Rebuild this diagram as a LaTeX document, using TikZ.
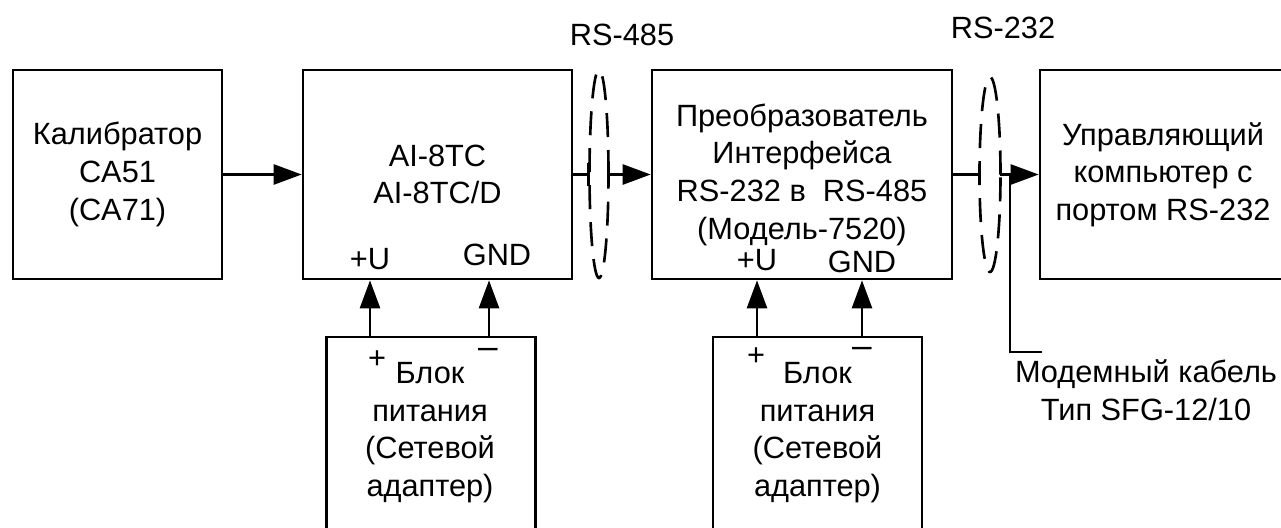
\documentclass[tikz,border=0pt]{standalone}
\usepackage{fontspec}
\setmainfont{Liberation Sans}
\usetikzlibrary{arrows.meta,positioning,calc,shapes.geometric}
\newcommand{\fs}{\fontsize{17.5}{21.4}\selectfont}
\tikzset{
  >={Triangle[length=5.6mm,width=4mm]},
  box/.style   ={draw,line width=1.5pt,minimum height=41.8mm,
                 align=center,font=\fs,inner sep=0pt},
  psu/.style   ={draw,line width=1.5pt,minimum width=41.8mm,
                 minimum height=44.6mm},
  txt/.style   ={font=\fs,align=center,inner sep=0pt},
  pin/.style   ={font=\fs,inner sep=0pt},
  sign/.style  ={font=\fontsize{20}{24}\selectfont,inner sep=0pt},
  lbl/.style   ={font=\fs,inner sep=0pt},
  wire/.style  ={line width=1.5pt},
  flow/.style  ={->,line width=1.5pt},
  cable/.style ={draw,ellipse,inner sep=0pt,line width=1.5pt,
                 dash pattern=on 4.8mm off 2.6mm},
}

\begin{document}
\begin{tikzpicture}[x=1cm,y=1cm]
\useasboundingbox (0,0) rectangle (25.62,-10.56);
\clip (0,0) rectangle (25.62,-10.56);
% main blocks
\node[box,minimum width=41.8mm] (cal)  at (2.35,-3.49)  {Калибратор\\CA51\\(CA71)};
\node[box,minimum width=53.8mm] (ai)   at (8.75,-3.49)  {AI-8TC\\AI-8TC/D};
\node[box,minimum width=60mm]   (conv) at (16.04,-3.49)
  {Преобразователь\\Интерфейса\\RS-232 в\ \ RS-485\\(Модель-7520)};
\node[box,minimum width=49.2mm] (pc)   at (23.26,-3.49) {Управляющий\\компьютер с\\портом RS-232};
\node[pin] (aiu)     at (7.40,-5.18)  {+U};
\node[pin] (aignd)   at (9.94,-5.10)  {GND};
\node[pin] (convu)   at (15.14,-5.20) {+U};
\node[pin] (convgnd) at (17.24,-5.24) {GND};
% power supplies
\node[psu] (psu1) at (8.62,-8.97) {};
\node[psu] (psu2) at (16.35,-8.97) {};
\node[txt] (psu1txt) at (8.60,-8.65)  {Блок\\питания\\(Сетевой\\адаптер)};
\node[txt] (psu2txt) at (16.35,-8.65) {Блок\\питания\\(Сетевой\\адаптер)};
\node[pin]  (psu1p) at (7.54,-7.20)  {+};
\node[sign] (psu1m) at (9.76,-7.06)  {--};
\node[pin]  (psu2p) at (15.12,-7.14) {+};
\node[sign] (psu2m) at (17.24,-7.04) {--};
\coordinate (u1) at (7.40,0);
\coordinate (g1) at (9.78,0);
\coordinate (u2) at (15.14,0);
\coordinate (g2) at (17.24,0);
\draw[flow] (psu1.north -| u1) -- (ai.south -| u1);
\draw[flow] (psu1.north -| g1) -- (ai.south -| g1);
\draw[flow] (psu2.north -| u2) -- (conv.south -| u2);
\draw[flow] (psu2.north -| g2) -- (conv.south -| g2);
% RS-485 line
\draw[flow] (cal) -- (ai);
\coordinate (bar485) at (11.80,-3.49);
\coordinate (out485) at (12.18,-3.49);
\draw[wire,-{Bar[width=4.6mm]}] (ai.east) -- (bar485);
\draw[flow] (out485) -- (conv.west);
\node[cable,minimum width=3.8mm,minimum height=41.6mm] (bus485) at (11.98,-3.48) {};
\node[lbl] (rs485) at (12.44,-0.70) {RS-485};
% RS-232 line
\coordinate (end232) at (19.60,-3.49);
\coordinate (out232) at (20.00,-3.49);
\coordinate (tap)    at (20.20,-3.49);
\coordinate (modem)  at (20.84,-7.04);
\draw[wire] (conv.east) -- (end232);
\draw[flow] (out232) -- (pc.west);
\draw[wire] (tap) |- (modem);
\node[cable,minimum width=4.2mm,minimum height=39mm] (bus232) at (19.80,-3.49) {};
\node[lbl] (rs232) at (20.06,-0.56) {RS-232};
\node[txt] (cablelbl) at (22.92,-7.80) {Модемный кабель\\Тип SFG-12/10};
\end{tikzpicture}
\end{document}
